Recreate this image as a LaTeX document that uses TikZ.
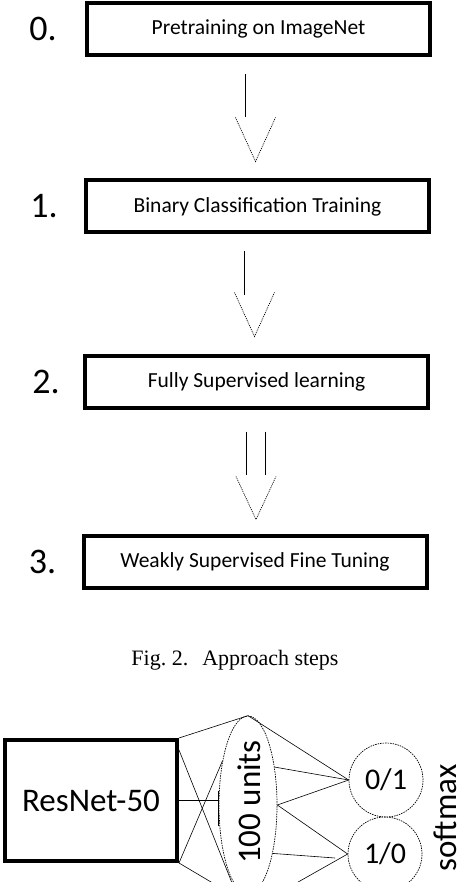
\documentclass[tikz,border=0pt]{standalone}
\usepackage{fontspec}
\setmainfont{Carlito}
\newfontfamily\capfont{Liberation Serif}
\usetikzlibrary{positioning,calc,shapes.geometric}

\begin{document}
\begin{tikzpicture}[x=1pt,y=-1pt,every node/.style={black},
	stepbox/.style={draw,line width=4pt,minimum width=343pt,minimum height=52pt,inner sep=0pt,font=\fontsize{21.5pt}{24pt}\selectfont},
	numlabel/.style={inner sep=0pt,font=\fontsize{36pt}{40pt}\selectfont},
	shaft/.style={line width=0.8pt},
	headline/.style={line width=0.7pt,dash pattern=on 1pt off 1pt},
	unit/.style={draw,line width=0.7pt,dash pattern=on 1.5pt off 1pt,inner sep=0pt},
	bigtext/.style={font=\fontsize{33pt}{36pt}\selectfont},
	wire/.style={line width=0.6pt}]
	\useasboundingbox (0,0) rectangle (460,882);
	\clip (0,0) rectangle (460,882);

	\node[stepbox] (b0) at (258.5,29) {Pretraining on ImageNet};
	\node[stepbox] (b1) at (257.5,206.5) {Binary Classification Training};
	\node[stepbox] (b2) at (256.5,381.5) {Fully Supervised learning};
	\node[stepbox] (b3) at (255,561.5) {Weakly Supervised Fine Tuning};

	\node[numlabel,left=28pt of b0] (n0) {0.};
	\node[numlabel,left=26pt of b1] (n1) {1.};
	\node[numlabel,left=23pt of b2] (n2) {2.};
	\node[numlabel,left=25pt of b3] (n3) {3.};

	\foreach \a/\b in {b0/b1,b1/b2}{
		\draw[shaft] ($(\a.south)+(-13,17)$) -- ($(\a.south)+(-13,60)$);
		\draw[headline] ($(\b.north)+(-22,-61)$) -- ($(\b.north)+(-2,-17)$) -- ($(\b.north)+(18,-61)$);
	}
	\draw[shaft] ($(b2.south)+(-10.5,22)$) -- ($(b2.south)+(-10.5,65)$);
	\draw[shaft] ($(b2.south)+(8.5,22)$) -- ($(b2.south)+(8.5,65)$);
	\draw[headline] ($(b3.north)+(-19,-57)$) -- ($(b3.north)+(1,-14)$) -- ($(b3.north)+(21,-57)$);

	\node[font=\capfont\fontsize{22pt}{24pt}\selectfont] (cap) at (235,660) {Fig.~2.\hspace{14pt}Approach steps};

	\node[draw,line width=4pt,minimum width=172pt,minimum height=121pt,bigtext] (res) at (91,800.5) {ResNet-50};
	\node[unit,ellipse,minimum width=58pt,minimum height=178pt] (hid) at (248,805) {};
	\node[bigtext,rotate=90] (hidtxt) at (249,802) {100 units};
	\node[unit,circle,minimum size=74pt,font=\fontsize{30pt}{32pt}\selectfont] (c0) at (386,780) {0/1};
	\node[unit,circle,minimum size=74pt,font=\fontsize{30pt}{32pt}\selectfont] (c1) at (385,854) {1/0};
	\node[bigtext,rotate=90,anchor=south,inner sep=0pt] (soft) at (457,818) {softmax};

	\coordinate (lowin) at (238,898);
	\coordinate (lowout) at (284,890);
	\coordinate (gap) at (335,858);
	\draw[wire] (res.north east) -- (hid.north);
	\draw[wire] ($(res.north east)+(0,12)$) -- (lowin);
	\draw[wire] (res.east) -- (res.east -| hid.west);
	\draw[wire] ($(res.east -| hid.west)+(0,-10)$) -- ($(res.east -| hid.west)+(0,25)$);
	\draw[wire] (res.south east) -- (hid.120);
	\draw[wire] (res.south east) -- (lowin);
	\draw[wire] (hid.north) -- (c0.west);
	\draw[wire] (hid.55) -- (c0.west);
	\draw[wire] (hid.east) -- (c0.west);
	\draw[wire] (hid.east) -- (c1.west);
	\draw[wire] (hid.-63) -- (gap);
	\draw[wire] (lowout) -- (c1.west);
\end{tikzpicture}
\end{document}
